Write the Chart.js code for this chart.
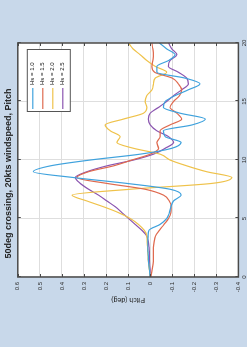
<!DOCTYPE html>
<html><head><meta charset="utf-8">
<script src="https://cdn.jsdelivr.net/npm/chart.js@4/dist/chart.umd.min.js"></script>
<style>
html,body{margin:0;padding:0;background:#c8d8ea;overflow:hidden;width:247px;height:347px;}
#wrap{position:absolute;left:0;top:347px;width:347px;height:247px;transform-origin:0 0;transform:rotate(-90deg);}
canvas{display:block}
</style></head><body>
<div id="wrap"><canvas id="c" width="347" height="247"></canvas></div>
<script>
const titleText = '50deg crossing, 20kts windspeed, Pitch';
const xTitle = 'Time (s)';
const yTitle = 'Pitch (deg)';
const seriesLabels = ['Hs = 1.0', 'Hs = 1.5', 'Hs = 2.0', 'Hs = 2.5'];
const seriesColors = ['#3fa2dd', '#df6a4f', '#efc24a', '#8b55b0'];
const time = [0,0.5,1,1.5,2,2.5,3,3.5,4,4.5,5,5.5,6,6.5,7,7.5,8,8.5,9,9.5,10,10.5,11,11.5,12,12.5,13,13.5,14,14.5,15,15.5,16,16.5,17,17.5,18,18.5,19,19.5,20];
const blue = [0,0.003,0.006,0.008,0.009,0.011,0.011,0.009,0.005,-0.045,-0.075,-0.087,-0.094,-0.106,-0.14,-0.09,0.106,0.347,0.53,0.452,0.271,0.045,-0.098,-0.14,-0.068,-0.06,-0.19,-0.25,-0.136,-0.06,-0.068,-0.113,-0.173,-0.226,-0.158,-0.03,-0.03,-0.083,-0.113,-0.075,-0.042];
const red = [-0.003,-0.008,-0.012,-0.015,-0.015,-0.015,-0.018,-0.024,-0.042,-0.063,-0.083,-0.094,-0.095,-0.086,-0.06,0.023,0.196,0.332,0.279,0.166,0.083,0,-0.038,-0.03,-0.045,-0.045,-0.09,-0.143,-0.121,-0.09,-0.106,-0.133,-0.143,-0.128,-0.1,-0.02,-0.008,-0.012,-0.015,-0.012,-0.008];
const yellow = [0,0.003,0.006,0.009,0.011,0.012,0.014,0.015,0.027,0.053,0.09,0.143,0.211,0.287,0.354,0.09,-0.28,-0.37,-0.256,-0.166,-0.09,-0.045,0.075,0.151,0.136,0.181,0.204,0.121,0.03,0.015,0.023,0.015,-0.008,-0.015,-0.023,-0.075,-0.023,0.015,0.045,0.078,0.098];
const purple = [0,0,0.002,0.003,0.003,0.005,0.008,0.015,0.038,0.068,0.098,0.128,0.158,0.196,0.234,0.279,0.317,0.339,0.287,0.196,0.075,-0.015,-0.068,-0.106,-0.083,-0.03,0,0.008,0,-0.038,-0.075,-0.106,-0.143,-0.173,-0.166,-0.128,-0.083,-0.09,-0.121,-0.098,-0.083];
const series = [blue, red, yellow, purple];
const timeRange = [0, 20], timeStep = 5;
const pitchRange = [-0.4, 0.6], pitchStep = 0.1;

const font = 'Liberation Sans';
const framePlugin = {
  id: 'frame',
  beforeDraw(chart) {
    const {ctx, chartArea: a} = chart;
    ctx.save(); ctx.fillStyle = '#ffffff';
    ctx.fillRect(a.left, a.top, a.right - a.left, a.bottom - a.top);
    ctx.restore();
  },
  afterDraw(chart) {
    const {ctx, chartArea: a, scales} = chart;
    ctx.save();
    ctx.strokeStyle = '#4a4a4a'; ctx.lineWidth = 1;
    ctx.beginPath();
    scales.x.ticks.forEach(t => { const p = Math.round(scales.x.getPixelForValue(t.value)) + 0.5;
      ctx.moveTo(p, a.bottom); ctx.lineTo(p, a.bottom - 3); ctx.moveTo(p, a.top); ctx.lineTo(p, a.top + 3); });
    scales.y.ticks.forEach(t => { const p = Math.round(scales.y.getPixelForValue(t.value)) + 0.5;
      ctx.moveTo(a.left, p); ctx.lineTo(a.left + 3, p); ctx.moveTo(a.right, p); ctx.lineTo(a.right - 3, p); });
    ctx.stroke();
    ctx.lineWidth = 1.5;
    ctx.strokeRect(a.left, a.top, a.right - a.left, a.bottom - a.top);
    const bx = a.right - 69, by = a.top + 9, bw = 62, bh = 43;
    ctx.fillStyle = '#ffffff'; ctx.fillRect(bx, by, bw, bh);
    ctx.lineWidth = 1; ctx.strokeStyle = '#555'; ctx.strokeRect(bx + 0.5, by + 0.5, bw, bh);
    ctx.font = '6px "' + font + '"'; ctx.textBaseline = 'middle'; ctx.fillStyle = '#222';
    chart.data.datasets.forEach((d, i) => {
      const yy = by + 6 + i * 10;
      ctx.strokeStyle = d.borderColor; ctx.lineWidth = 1.2;
      ctx.beginPath(); ctx.moveTo(bx + 3, yy); ctx.lineTo(bx + 24, yy); ctx.stroke();
      ctx.fillText(d.label, bx + 27, yy);
    });
    ctx.restore();
  }
};

new Chart(document.getElementById('c'), {
  type: 'line',
  data: {
    datasets: series.map((s, i) => ({
      label: seriesLabels[i],
      data: time.map((t, j) => ({x: t, y: s[j]})),
      borderColor: seriesColors[i],
      borderWidth: 1.2,
      pointRadius: 0,
      fill: false,
      cubicInterpolationMode: 'monotone'
    }))
  },
  options: {
    responsive: false, animation: false, devicePixelRatio: 1,
    layout: {padding: 0},
    plugins: {
      legend: {display: false},
      tooltip: {enabled: false},
      title: {display: true, text: titleText, color: '#222',
        font: {family: font, size: 9, weight: 'bold'}, padding: {top: 3, bottom: 4}}
    },
    scales: {
      x: {type: 'linear', min: timeRange[0], max: timeRange[1],
        ticks: {stepSize: timeStep, color: '#333', font: {family: font, size: 6}, padding: 2, maxRotation: 0},
        grid: {color: '#dedede', drawTicks: false}, border: {display: false},
        title: {display: false, text: xTitle},
        afterFit(s) { s.height = 8; }},
      y: {min: pitchRange[0], max: pitchRange[1],
        ticks: {stepSize: pitchStep, color: '#333', font: {family: font, size: 6}, padding: 5,
          callback: v => Math.abs(v) < 1e-9 ? '0' : String(Math.round(v * 10) / 10)},
        grid: {color: '#dedede', drawTicks: false}, border: {display: false},
        title: {display: true, text: yTitle, color: '#222', font: {family: font, size: 7}, padding: {top: 43, bottom: 0}},
        afterFit(s) { s.width = 70; }},
      y2: {position: 'right', min: pitchRange[0], max: pitchRange[1],
        ticks: {display: false}, grid: {display: false}, border: {display: false},
        afterFit(s) { s.width = 43; }}
    }
  },
  plugins: [framePlugin]
});
</script>
</body></html>
